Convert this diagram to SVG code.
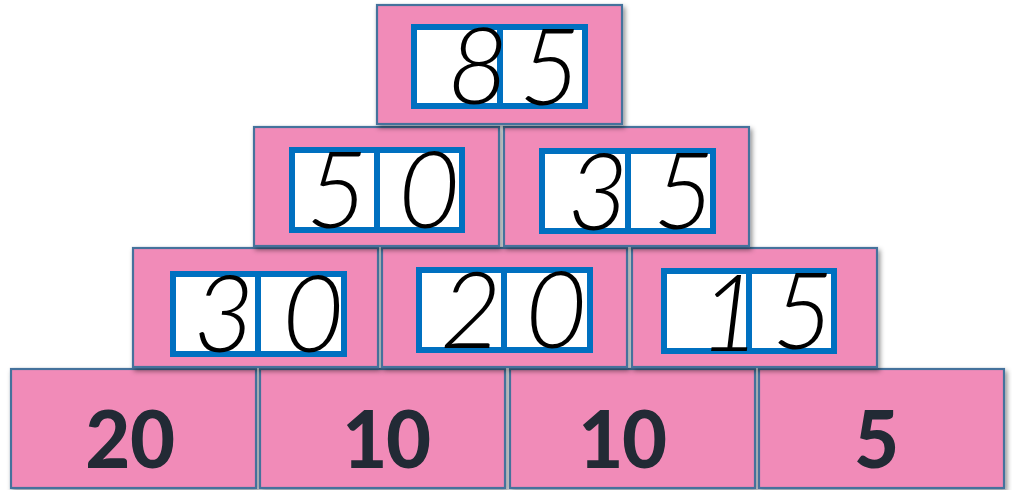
<svg xmlns="http://www.w3.org/2000/svg" width="1012" height="490" viewBox="0 0 1012 490">
<defs>
<filter id="sh" x="-10%" y="-10%" width="125%" height="130%">
<feDropShadow dx="2" dy="3" stdDeviation="2.5" flood-color="#000" flood-opacity="0.45"/>
</filter>
<style>
.blk{fill:#F18BB8;stroke:#45729C;stroke-width:2.2;filter:url(#sh)}
.box{fill:#fff;stroke:#0070C0;stroke-width:6}
.div{stroke:#0070C0;stroke-width:6}
.big{font-family:"Carlito","Open Sans","Liberation Sans",sans-serif;font-weight:bold;font-size:89px;fill:#222A35;text-anchor:middle}
.hw{font-family:"Lato","DejaVu Sans","Liberation Sans",sans-serif;font-weight:300;font-style:italic;font-size:106px;fill:#000;text-anchor:middle}
</style>
</defs>
<rect width="1012" height="490" fill="#fff"/>
<!-- bottom row -->
<g id="b20"><rect class="blk" x="11" y="369" width="245" height="119"/><text class="big" x="130" y="468">20</text></g>
<g id="b10a"><rect class="blk" x="260" y="369" width="245" height="119"/><text class="big" x="386" y="468">10</text></g>
<g id="b10b"><rect class="blk" x="510" y="369" width="245" height="119"/><text class="big" x="622" y="468">10</text></g>
<g id="b5"><rect class="blk" x="759" y="369" width="245" height="119"/><text class="big" x="877" y="468">5</text></g>
<!-- row 3 -->
<g id="n30"><rect class="blk" x="133" y="248" width="245" height="119"/><rect class="box" x="173" y="274" width="171" height="80"/><line class="div" x1="258" y1="274" x2="258" y2="354"/><text class="hw" x="224" y="352">3</text><text class="hw" x="313" y="352">0</text></g>
<g id="n20"><rect class="blk" x="382" y="248" width="245" height="119"/><rect class="box" x="419" y="270" width="171" height="80"/><line class="div" x1="504" y1="270" x2="504" y2="350"/><text class="hw" x="471" y="348">2</text><text class="hw" x="556" y="348">0</text></g>
<g id="n15"><rect class="blk" x="632" y="248" width="245" height="119"/><rect class="box" x="664" y="271" width="170" height="80"/><line class="div" x1="749" y1="271" x2="749" y2="351"/><text class="hw" x="730" y="351">1</text><text class="hw" x="803" y="349">5</text></g>
<!-- row 2 -->
<g id="n50"><rect class="blk" x="254" y="127" width="245" height="119"/><rect class="box" x="292" y="150" width="170" height="80"/><line class="div" x1="377" y1="150" x2="377" y2="230"/><text class="hw" x="337" y="228">5</text><text class="hw" x="429" y="228">0</text></g>
<g id="n35"><rect class="blk" x="504" y="127" width="245" height="119"/><rect class="box" x="542" y="151" width="171" height="80"/><line class="div" x1="628" y1="151" x2="628" y2="231"/><text class="hw" x="598" y="230">3</text><text class="hw" x="684" y="229">5</text></g>
<!-- top -->
<g id="n85"><rect class="blk" x="377" y="5" width="245" height="119"/><rect class="box" x="414" y="27" width="171" height="79"/><line class="div" x1="500" y1="27" x2="500" y2="106"/><text class="hw" x="478" y="104">8</text><text class="hw" x="550" y="105">5</text></g>
<g id="connectors"></g>
</svg>
